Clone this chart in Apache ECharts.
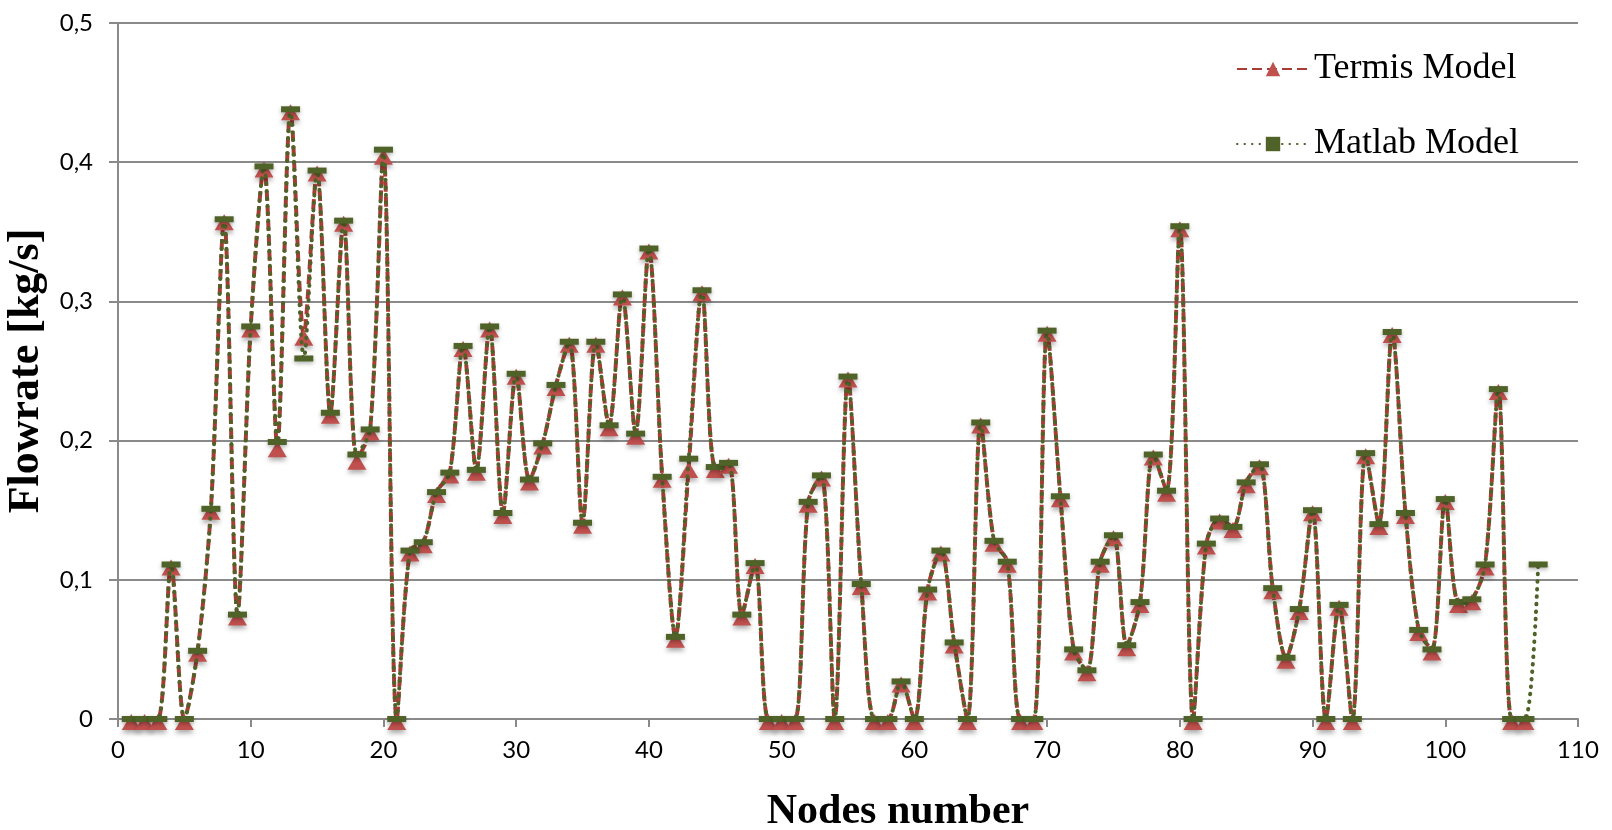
<!DOCTYPE html>
<html>
<head>
<meta charset="utf-8">
<title>Flowrate</title>
<script src="https://cdn.jsdelivr.net/npm/echarts@6/dist/echarts.min.js"></script>
<style>
    html, body { margin: 0; padding: 0; background: #fff; }
    #chart { width: 1612px; height: 830px; }
</style>
</head>
<body>
<div id="chart"></div>
<script>
// flowrate per node (nodes 1..106 for Termis, 1..107 for Matlab)
var termis = [
    0, 0, 0, 0.111, 0, 0.049, 0.151, 0.359, 0.075, 0.282,
    0.397, 0.196, 0.438, 0.276, 0.394, 0.220, 0.358, 0.187, 0.208, 0.406,
    0, 0.121, 0.127, 0.163, 0.177, 0.268, 0.179, 0.282, 0.148, 0.248,
    0.172, 0.198, 0.240, 0.271, 0.141, 0.271, 0.211, 0.305, 0.205, 0.338,
    0.174, 0.059, 0.181, 0.308, 0.181, 0.184, 0.075, 0.112, 0, 0,
    0, 0.156, 0.175, 0, 0.246, 0.097, 0, 0, 0.027, 0,
    0.093, 0.121, 0.055, 0, 0.213, 0.128, 0.113, 0, 0, 0.279,
    0.160, 0.050, 0.035, 0.113, 0.132, 0.053, 0.084, 0.190, 0.164, 0.354,
    0, 0.126, 0.144, 0.138, 0.170, 0.183, 0.094, 0.044, 0.079, 0.150,
    0, 0.082, 0, 0.191, 0.140, 0.278, 0.148, 0.064, 0.050, 0.158,
    0.084, 0.086, 0.111, 0.237, 0, 0
];
var matlab = [
    0, 0, 0, 0.111, 0, 0.049, 0.151, 0.359, 0.075, 0.282,
    0.397, 0.199, 0.438, 0.259, 0.394, 0.220, 0.358, 0.190, 0.208, 0.409,
    0, 0.121, 0.127, 0.163, 0.177, 0.268, 0.179, 0.282, 0.148, 0.248,
    0.172, 0.198, 0.240, 0.271, 0.141, 0.271, 0.211, 0.305, 0.205, 0.338,
    0.174, 0.059, 0.187, 0.308, 0.181, 0.184, 0.075, 0.112, 0, 0,
    0, 0.156, 0.175, 0, 0.246, 0.097, 0, 0, 0.027, 0,
    0.093, 0.121, 0.055, 0, 0.213, 0.128, 0.113, 0, 0, 0.279,
    0.160, 0.050, 0.035, 0.113, 0.132, 0.053, 0.084, 0.190, 0.164, 0.354,
    0, 0.126, 0.144, 0.138, 0.170, 0.183, 0.094, 0.044, 0.079, 0.150,
    0, 0.082, 0, 0.191, 0.140, 0.278, 0.148, 0.064, 0.050, 0.158,
    0.084, 0.086, 0.111, 0.237, 0, 0, 0.111
];
var seriesNames = ['Termis Model', 'Matlab Model'];
var xTicks = [0, 10, 20, 30, 40, 50, 60, 70, 80, 90, 100, 110];
var yTicks = ['0', '0,1', '0,2', '0,3', '0,4', '0,5'];

// node number is the position in the list (first node = 1)
function toPairs(values) {
    return values.map(function(v, i) {
        return [i + 1, v];
    });
}

var gridColor = '#8a8a8a';
var tickFont = 'Lato, "Open Sans", sans-serif';
var serifFont = '"Liberation Serif", "Times New Roman", serif';

var chart = echarts.init(document.getElementById('chart'));

var option = {
    animation: false,
    grid: {
        left: 118,
        right: 34,
        top: 23,
        bottom: 111,
        outerBoundsMode: 'none'
    },
    legend: {
        orient: 'vertical',
        left: 1231,
        top: 44,
        itemWidth: 72,
        itemHeight: 18,
        itemGap: 35,
        data: seriesNames,
        textStyle: {
            fontFamily: serifFont,
            fontSize: 36,
            lineHeight: 40,
            color: '#000'
        }
    },
    xAxis: {
        type: 'value',
        min: xTicks[0],
        max: xTicks[xTicks.length - 1],
        interval: 10,
        name: 'Nodes number',
        nameLocation: 'middle',
        nameGap: 72,
        nameTextStyle: {
            fontFamily: serifFont,
            fontWeight: 'bold',
            fontSize: 42,
            color: '#000',
            padding: [0, 0, 0, 100]
        },
        axisLine: {
            lineStyle: { color: gridColor, width: 2 }
        },
        axisTick: {
            show: true,
            length: 8,
            lineStyle: { color: gridColor, width: 2 }
        },
        axisLabel: {
            margin: 19,
            fontFamily: tickFont,
            fontSize: 24,
            color: '#000'
        },
        splitLine: { show: false }
    },
    yAxis: {
        type: 'value',
        min: 0,
        max: 0.5,
        interval: 0.1,
        name: 'Flowrate [kg/s]',
        nameLocation: 'middle',
        nameGap: 61,
        nameTextStyle: {
            fontFamily: serifFont,
            fontWeight: 'bold',
            fontSize: 44,
            color: '#000'
        },
        axisLine: {
            show: true,
            lineStyle: { color: gridColor, width: 2 }
        },
        axisTick: {
            show: true,
            length: 9,
            lineStyle: { color: gridColor, width: 2 }
        },
        axisLabel: {
            margin: 25,
            fontFamily: tickFont,
            fontSize: 24,
            color: '#000',
            formatter: function(v) {
                return yTicks[Math.round(v * 10)];
            }
        },
        splitLine: {
            show: true,
            lineStyle: { color: gridColor, width: 2 }
        }
    },
    series: [{
            name: seriesNames[0],
            type: 'line',
            data: toPairs(termis),
            smooth: 0.3,
            symbol: 'triangle',
            symbolSize: [19, 16],
            symbolOffset: [0, 3],
            showAllSymbol: true,
            lineStyle: {
                color: '#a83c36',
                width: 4,
                type: [10, 5]
            },
            itemStyle: {
                color: '#c0504d',
                shadowBlur: 5,
                shadowColor: 'rgba(0,0,0,0.35)',
                shadowOffsetY: 3
            },
            z: 2
        },
        {
            name: seriesNames[1],
            type: 'line',
            data: toPairs(matlab),
            smooth: 0.3,
            symbol: 'rect',
            symbolSize: [19, 6],
            showAllSymbol: true,
            lineStyle: {
                color: '#4f6228',
                width: 4,
                type: [0.5, 7],
                cap: 'round'
            },
            itemStyle: {
                color: '#4f6228',
                shadowBlur: 4,
                shadowColor: 'rgba(0,0,0,0.3)',
                shadowOffsetY: 2
            },
            z: 3
        }
    ]
};

chart.setOption(option, true);
</script>
</body>
</html>
